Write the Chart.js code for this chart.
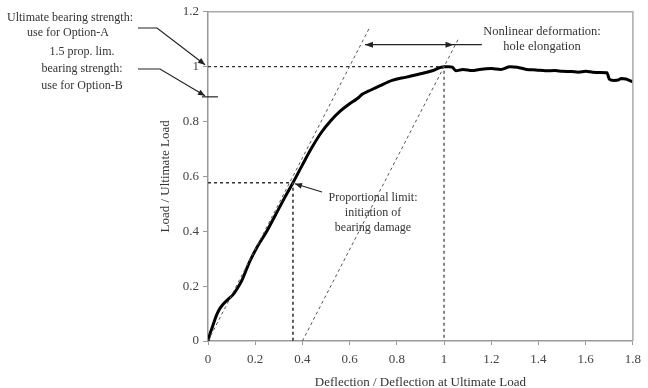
<!DOCTYPE html>
<html>
<head>
<meta charset="utf-8">
<script src="https://cdn.jsdelivr.net/npm/chart.js@4/dist/chart.umd.min.js"></script>
<style>
  html, body { margin: 0; padding: 0; background: #fff; }
  #wrap { width: 648px; height: 388px; position: relative; }
</style>
</head>
<body>
<div id="wrap"><canvas id="c" width="648" height="388"></canvas></div>
<script>
// ---- Data ----
const curveX = [0, 0.008, 0.017, 0.028, 0.038, 0.05, 0.065, 0.085, 0.107, 0.125, 0.143, 0.177, 0.21, 0.249, 0.283, 0.317, 0.36,
  0.40, 0.44, 0.48, 0.52, 0.56, 0.60, 0.63, 0.655, 0.69, 0.727, 0.78, 0.84, 0.90, 0.95, 0.98, 1.0, 1.02, 1.035,
  1.05, 1.08, 1.12, 1.15, 1.2, 1.24, 1.28, 1.31, 1.35, 1.39, 1.43, 1.47, 1.5, 1.54, 1.57, 1.6, 1.63, 1.66, 1.69,
  1.70, 1.72, 1.74, 1.75, 1.77, 1.79, 1.8];
const curveY = [0, 0.025, 0.047, 0.075, 0.098, 0.118, 0.135, 0.152, 0.17, 0.193, 0.22, 0.29, 0.345, 0.40, 0.455, 0.51, 0.577,
  0.642, 0.705, 0.76, 0.803, 0.838, 0.865, 0.882, 0.90, 0.915, 0.93, 0.95, 0.962, 0.974, 0.985, 0.996, 1.0, 1.0, 0.998,
  0.985, 0.99, 0.986, 0.99, 0.993, 0.99, 1.0, 0.998, 0.99, 0.988, 0.985, 0.986, 0.983, 0.982, 0.98, 0.983, 0.98, 0.979, 0.978,
  0.955, 0.95, 0.952, 0.957, 0.955, 0.948, 0.945];

const xTickValues = [0, 0.2, 0.4, 0.6, 0.8, 1, 1.2, 1.4, 1.6, 1.8];
const yTickValues = [0, 0.2, 0.4, 0.6, 0.8, 1, 1.2];

// reference / construction lines
const ultimateX = [0, 1, 1];
const ultimateY = [1, 1, 0];
const propLimX = [0, 0.36, 0.36];
const propLimY = [0.577, 0.577, 0];
const slopeLineX = [0, 0.683];
const slopeLineY = [0, 1.14];
const offsetLineX = [0.4, 1.06];
const offsetLineY = [0, 1.10];
const optionBLevel = 0.89;

const toPts = (xs, ys) => xs.map((x, i) => ({ x: x, y: ys[i] }));
const fmt = v => String(Math.round(v * 100) / 100);

const SERIF = '"Liberation Serif", "Times New Roman", serif';
const TXT = '#333';

function arrowHead(ctx, tipX, tipY, fromX, fromY, len, wid) {
  const a = Math.atan2(tipY - fromY, tipX - fromX);
  ctx.beginPath();
  ctx.moveTo(tipX, tipY);
  ctx.lineTo(tipX - len * Math.cos(a) + wid * Math.sin(a), tipY - len * Math.sin(a) - wid * Math.cos(a));
  ctx.lineTo(tipX - len * Math.cos(a) - wid * Math.sin(a), tipY - len * Math.sin(a) + wid * Math.cos(a));
  ctx.closePath();
  ctx.fill();
}

const annotations = {
  id: 'annotations',
  afterDraw(chart) {
    const ctx = chart.ctx;
    const xs = chart.scales.x, ys = chart.scales.y;
    const ca = chart.chartArea;
    ctx.save();
    // box top and right
    ctx.strokeStyle = '#aaa';
    ctx.lineWidth = 1.5;
    ctx.beginPath();
    ctx.moveTo(ca.left, ca.top);
    ctx.lineTo(ca.right, ca.top);
    ctx.lineTo(ca.right, ca.bottom);
    ctx.stroke();

    ctx.fillStyle = TXT;
    ctx.strokeStyle = '#222';
    ctx.lineWidth = 1.2;
    ctx.textAlign = 'center';
    ctx.textBaseline = 'middle';

    // left annotations
    ctx.font = '12px ' + SERIF;
    ctx.fillText('Ultimate bearing strength:', 70, 18);
    ctx.fillText('use for Option-A', 68, 33);
    ctx.fillText('1.5 prop. lim.', 82, 52);
    ctx.fillText('bearing strength:', 82, 69);
    ctx.fillText('use for Option-B', 82, 86);

    const axX = xs.getPixelForValue(0);
    const yA = ys.getPixelForValue(1);
    const yB = ys.getPixelForValue(optionBLevel);
    ctx.fillStyle = '#222';
    ctx.beginPath();
    ctx.moveTo(138, 28); ctx.lineTo(157, 28); ctx.lineTo(axX - 3, yA - 2);
    ctx.stroke();
    arrowHead(ctx, axX - 3, yA - 2, 157, 28, 7, 3);
    ctx.beginPath();
    ctx.moveTo(138, 69); ctx.lineTo(160, 69); ctx.lineTo(axX - 3, yB - 1);
    ctx.stroke();
    arrowHead(ctx, axX - 3, yB - 1, 160, 69, 7, 3);
    ctx.beginPath();
    ctx.moveTo(axX - 6, yB); ctx.lineTo(axX + 10, yB);
    ctx.stroke();

    // nonlinear deformation arrow
    const yArr = ys.getPixelForValue(1.08);
    const xL = xs.getPixelForValue(0.665);
    const xR = xs.getPixelForValue(1.04);
    const xEnd = xs.getPixelForValue(1.16);
    ctx.beginPath();
    ctx.moveTo(xL, yArr); ctx.lineTo(xEnd, yArr);
    ctx.stroke();
    arrowHead(ctx, xL, yArr, xL + 10, yArr, 8, 3);
    arrowHead(ctx, xR, yArr, xR - 10, yArr, 8, 3);
    ctx.fillStyle = TXT;
    ctx.font = '12.5px ' + SERIF;
    ctx.fillText('Nonlinear deformation:', 542, 32);
    ctx.fillText('hole elongation', 542, 47);

    // proportional limit annotation
    const px = xs.getPixelForValue(0.36), py = ys.getPixelForValue(0.577);
    ctx.fillStyle = '#222';
    ctx.beginPath();
    ctx.moveTo(322, 192); ctx.lineTo(px + 2, py + 1);
    ctx.stroke();
    arrowHead(ctx, px + 2, py + 1, 322, 192, 7, 3);
    ctx.fillStyle = TXT;
    ctx.font = '12px ' + SERIF;
    ctx.fillText('Proportional limit:', 373, 198);
    ctx.fillText('initiation of', 373, 213);
    ctx.fillText('bearing damage', 373, 228);
    ctx.restore();
  }
};

const dashStyle = { borderColor: '#333', borderWidth: 1.2, borderDash: [3, 3], pointRadius: 0, showLine: true, fill: false };

new Chart(document.getElementById('c'), {
  type: 'scatter',
  data: {
    datasets: [
      Object.assign({ data: toPts(slopeLineX, slopeLineY) }, dashStyle, { borderColor: '#555', borderWidth: 1 }),
      Object.assign({ data: toPts(offsetLineX, offsetLineY) }, dashStyle, { borderColor: '#555', borderWidth: 1 }),
      Object.assign({ data: toPts(ultimateX, ultimateY) }, dashStyle),
      Object.assign({ data: toPts(propLimX, propLimY) }, dashStyle, { borderWidth: 1.6 }),
      { data: toPts(curveX, curveY), borderColor: '#000', borderWidth: 3, pointRadius: 0, showLine: true, fill: false,
        cubicInterpolationMode: 'monotone', borderJoinStyle: 'round' }
    ]
  },
  options: {
    responsive: false,
    animation: false,
    events: [],
    layout: { padding: { left: 158, top: 11, right: 14, bottom: 0 } },
    plugins: { legend: { display: false }, tooltip: { enabled: false } },
    scales: {
      x: {
        type: 'linear', min: 0, max: 1.8,
        afterBuildTicks: s => { s.ticks = xTickValues.map(v => ({ value: v })); },
        afterFit: s => { s.height = 47; },
        grid: { drawOnChartArea: false, drawTicks: true, tickLength: 4, color: '#999' },
        border: { color: '#999', width: 1.5 },
        ticks: { color: '#444', font: { family: SERIF, size: 13 }, padding: 7, maxRotation: 0, callback: v => fmt(v) },
        title: { display: true, text: 'Deflection / Deflection at Ultimate Load', color: '#333',
          font: { family: SERIF, size: 13, lineHeight: 0.8 }, padding: { top: 0, bottom: 0 } }
      },
      y: {
        type: 'linear', min: 0, max: 1.2,
        afterBuildTicks: s => { s.ticks = yTickValues.map(v => ({ value: v })); },
        afterFit: s => { s.width = 50; },
        grid: { drawOnChartArea: false, drawTicks: true, tickLength: 5, color: '#999' },
        border: { color: '#999', width: 1.5 },
        ticks: { color: '#444', font: { family: SERIF, size: 13 }, padding: 4, callback: v => fmt(v) },
        title: { display: true, text: 'Load / Ultimate Load', color: '#333',
          font: { family: SERIF, size: 13, lineHeight: 1.2 }, padding: { top: 0, bottom: 0 } }
      }
    }
  },
  plugins: [annotations]
});
</script>
</body>
</html>
